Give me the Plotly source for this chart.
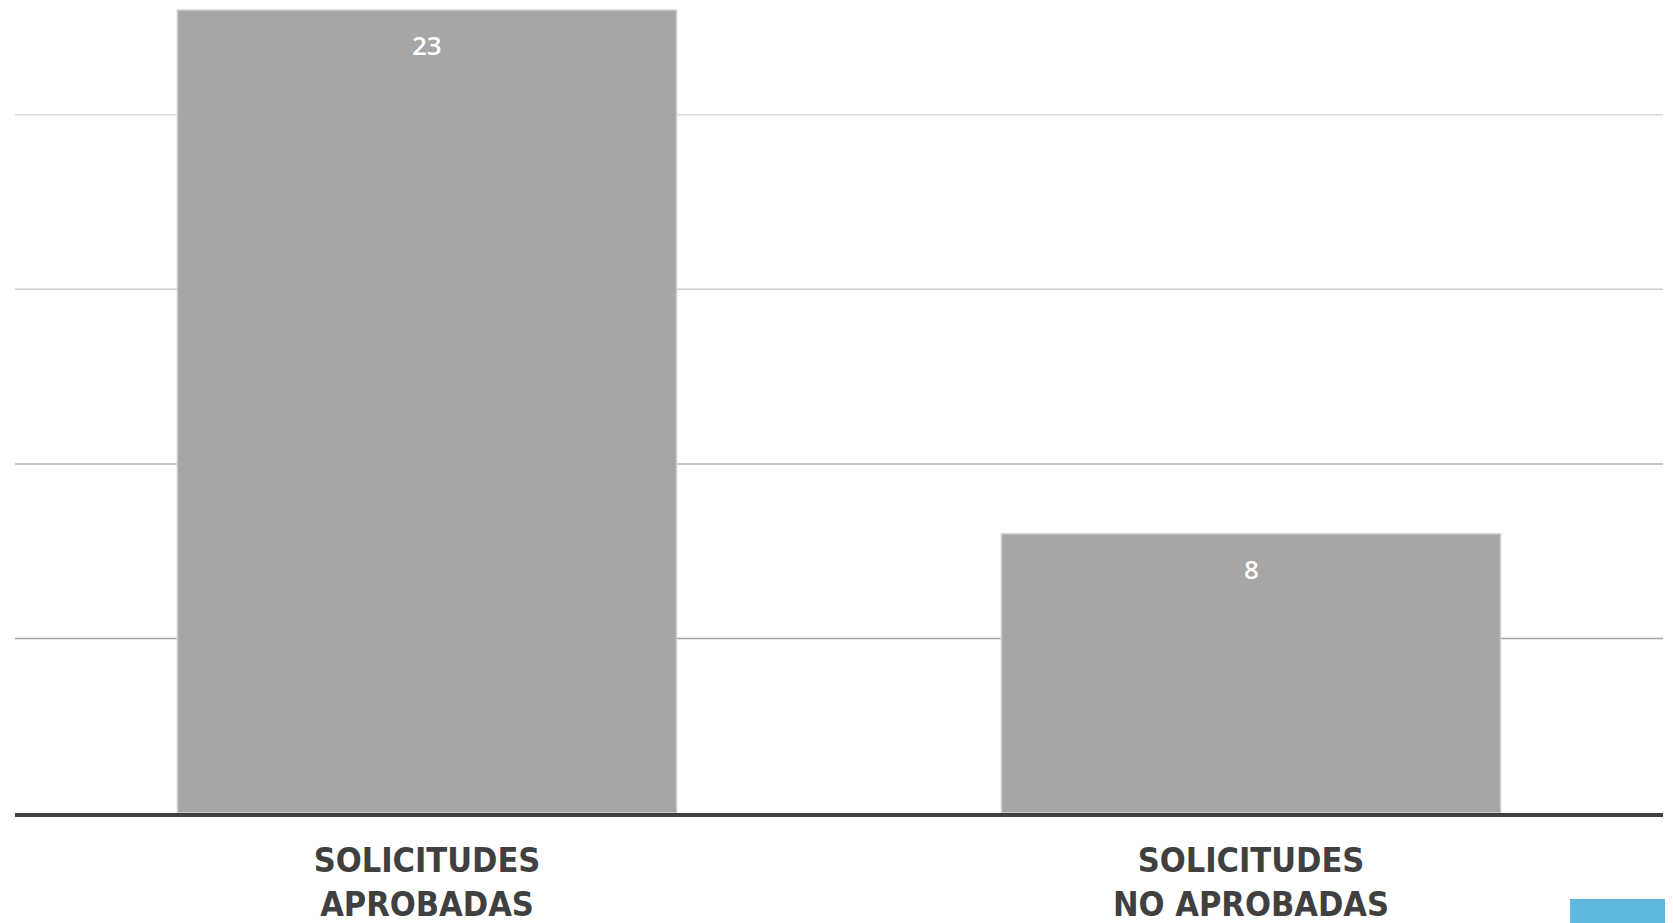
import plotly.graph_objects as go

categories = ["SOLICITUDES<br>APROBADAS", "SOLICITUDES<br>NO APROBADAS"]
values = [23, 8]
grid_values = [5, 10, 15, 20]
grid_colors = ["#A3A3A3", "#B6B6B6", "#CACACA", "#DADADA"]

label_font = "Liberation Sans Narrow, DejaVu Sans Condensed, Arial Narrow, sans-serif"

fig = go.Figure()
fig.add_trace(go.Bar(
    x=categories,
    y=values,
    marker=dict(color="#A6A6A6", line=dict(color="#D2D2D2", width=1.5)),
    hoverinfo="skip",
))

for x, v in zip(categories, values):
    fig.add_annotation(
        x=x, y=v, xref="x", yref="y",
        text=str(v), showarrow=False, yshift=-35,
        font=dict(family="Open Sans, sans-serif", size=26, color="white", weight=600),
    )

for g, c in zip(grid_values, grid_colors):
    fig.add_shape(
        type="line", xref="paper", yref="y",
        x0=0, x1=1, y0=g, y1=g,
        line=dict(color=c, width=1.5), layer="below",
    )

# decorative blue block in the bottom-right corner
fig.add_shape(
    type="rect", xref="paper", yref="paper",
    x0=0.9436, x1=1.1, y0=-0.1068, y1=-0.25,
    fillcolor="#5DB8DC", line=dict(width=0), layer="above",
)

fig.update_layout(
    width=1665, height=915,
    margin=dict(l=7, r=10, t=0, b=110),
    paper_bgcolor="white", plot_bgcolor="white",
    bargap=0.394,
    showlegend=False,
    xaxis=dict(
        showline=True, linecolor="#404040", linewidth=4,
        showgrid=False, ticks="", ticklabelstandoff=14,
        tickfont=dict(family=label_font, size=34, color="#404040", weight="bold"),
    ),
    yaxis=dict(
        range=[0, 23.06], showgrid=False, zeroline=False,
        showticklabels=False, showline=False,
    ),
)

fig.write_html("out.html")
